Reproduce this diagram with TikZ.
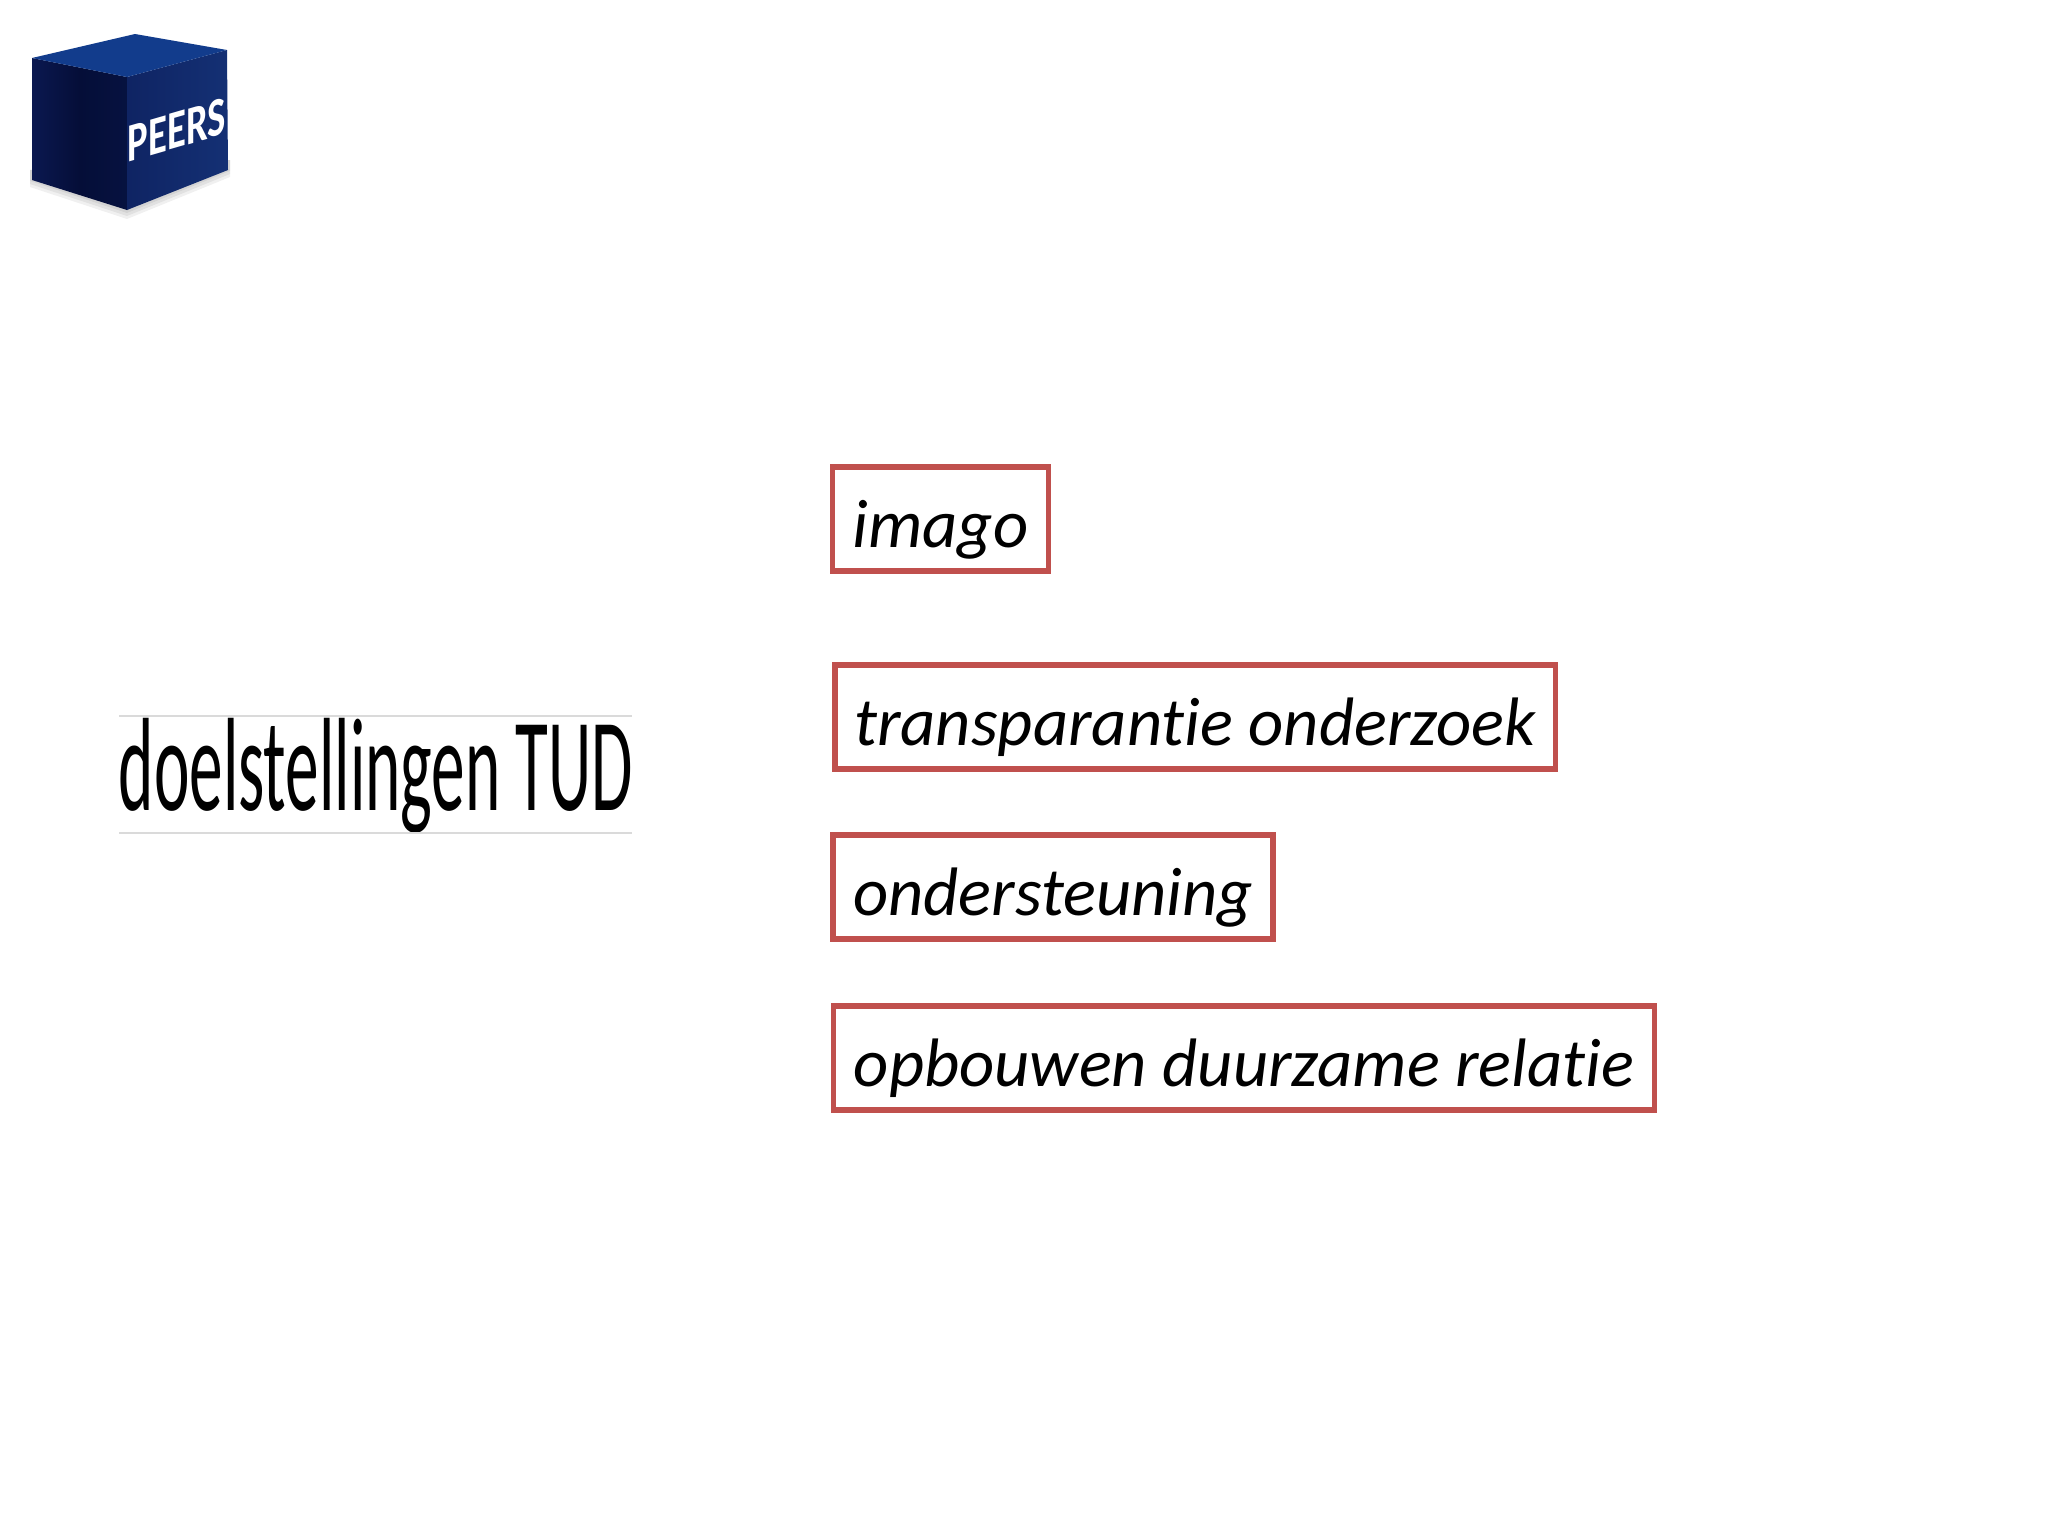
\documentclass[tikz,border=0pt]{standalone}
\usepackage{fontspec}
\usepackage{graphicx}
\setmainfont[RawFeature={-liga}]{Carlito}
\definecolor{boxred}{HTML}{C0504D}
\definecolor{ruleg}{HTML}{DADADA}
\definecolor{cubeA}{HTML}{0A1850}
\definecolor{cubeB}{HTML}{050E38}
\definecolor{cubeC}{HTML}{061240}
\definecolor{cubeD}{HTML}{0F2463}
\definecolor{cubeE}{HTML}{143074}
\definecolor{cubeT}{HTML}{123C8C}
\tikzset{
  goalbox/.style={draw=boxred, line width=1.55pt, fill=white, inner sep=0pt, minimum height=1.04cm,
    font=\fontsize{19.5}{23}\selectfont\itshape, text=black, text height=17.3pt, text depth=1pt, align=center},
  rulepart/.style={draw=ruleg, line width=0.3pt},
  cubeshadow/.style={fill=black, opacity=0.06, draw=none}
}
\begin{document}
\begin{tikzpicture}[x=0.01cm,y=-0.01cm]
\useasboundingbox (0,0) rectangle (2048,1536);
\fill[white] (0,0) rectangle (2048,1536);
% cube shadow
\foreach \d in {3,6,9}{
  \fill[cubeshadow] (30,178+\d) -- (127,210+\d) -- (230,168+\d) -- (230,160) -- (30,170) -- cycle;
}
% cube faces
\shade[left color=cubeA, right color=cubeC, middle color=cubeB]
  (32,58) -- (127,77) -- (127,210) -- (32,180) -- cycle;
\shade[left color=cubeD, right color=cubeE]
  (127,77) -- (227,50) -- (228,170) -- (127,210) -- cycle;
\fill[cubeT]
  (32,58) -- (135,34) -- (227,50) -- (127,77) -- cycle;
\node[inner sep=0pt, text=white, cm={1,0.29,0,1,(0,0)}, transform shape] (peers) at (177,130)
  {\resizebox{0.98cm}{0.36cm}{\bfseries PEERS}};
% title
\node[inner sep=0pt] (title) at (376,776) {\resizebox*{5.14cm}{1.15cm}{doelstellingen TUD}};
\coordinate (tl) at (119,716); \coordinate (tr) at (632,716);
\coordinate (bl) at (119,833); \coordinate (br) at (632,833);
\draw[rulepart] (tl) -- (tr);
\draw[rulepart] (bl) -- (br);
% boxes
\node[goalbox, minimum width=2.16cm] (imago) at (940.5,519) {imago};
\node[goalbox, minimum width=7.20cm] (transp) at (1195,717) {transparantie onderzoek};
\node[goalbox, minimum width=4.40cm] (onder) at (1053,887) {ondersteuning};
\node[goalbox, minimum width=8.21cm] (opbouw) at (1244,1058) {opbouwen duurzame relatie};
\end{tikzpicture}
\end{document}
